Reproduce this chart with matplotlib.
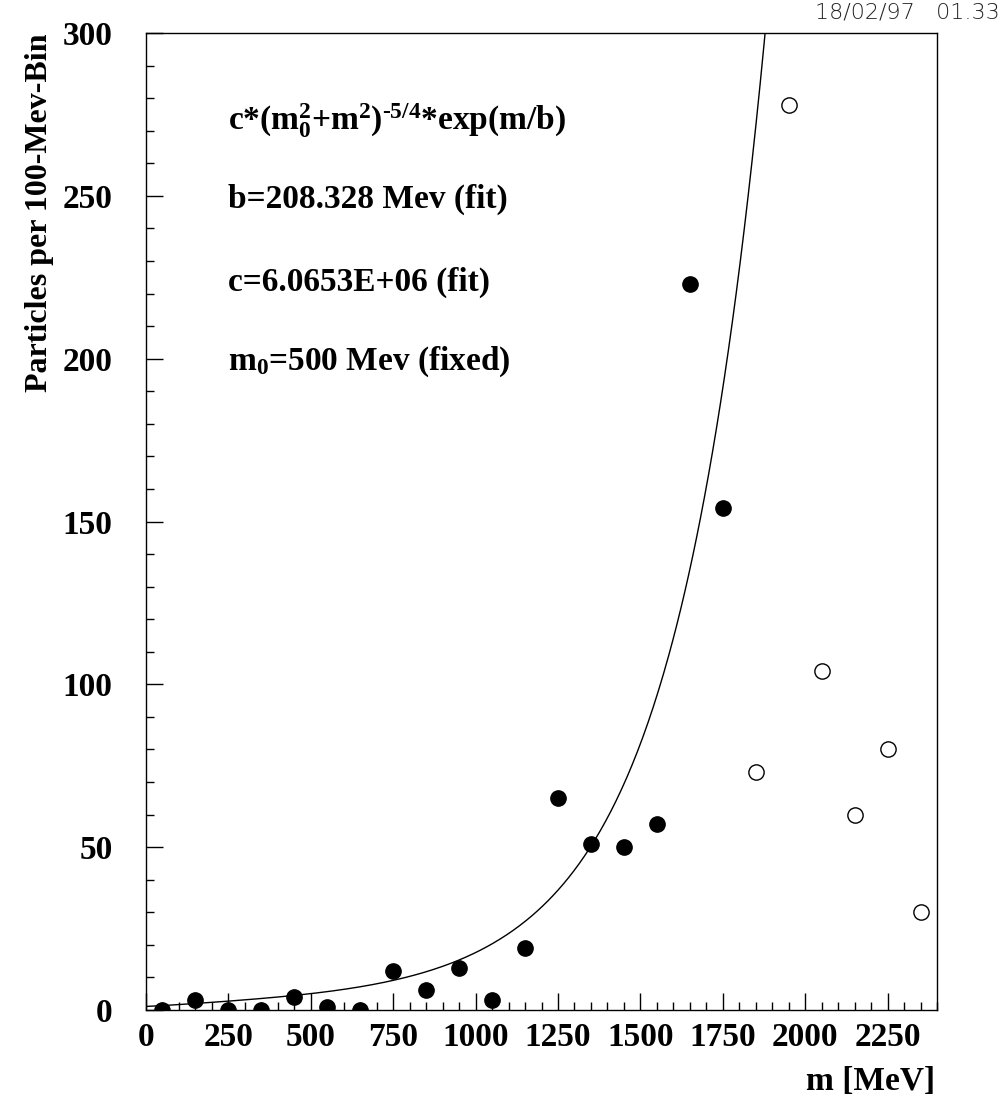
import matplotlib.pyplot as plt
import numpy as np

plt.rcParams['font.family'] = 'Liberation Serif'
plt.rcParams['font.weight'] = 'bold'
plt.rcParams['mathtext.fontset'] = 'custom'
plt.rcParams['mathtext.rm'] = 'Liberation Serif:bold'
plt.rcParams['mathtext.it'] = 'Liberation Serif:bold'
plt.rcParams['mathtext.bf'] = 'Liberation Serif:bold'

# bin centres (MeV) and counts, filled = used in fit, open = not used
m_fit = [50, 150, 250, 350, 450, 550, 650, 750, 850, 950, 1050, 1150,
         1250, 1350, 1450, 1550, 1650, 1750]
n_fit = [0, 3, 0, 0, 4, 1, 0, 12, 6, 13, 3, 19, 65, 51, 50, 57, 223, 154]
m_out = [1850, 1950, 2050, 2150, 2250, 2350]
n_out = [73, 278, 104, 60, 80, 30]

# fit parameters as printed on the chart
c = 6.0653e6
b = 208.328
m0 = 500.0

fig = plt.figure(figsize=(10.05, 11.01), dpi=100)
ax = fig.add_axes([146 / 1005, 1 - 1010 / 1101, (937 - 146) / 1005, (1010 - 33) / 1101])

m = np.linspace(0, 2400, 600)
f = c * (m0**2 + m**2) ** (-5 / 4) * np.exp(m / b)
ax.plot(m, f, color='black', lw=1)

ax.plot(m_fit, n_fit, 'o', ms=11, color='black')
ax.plot(m_out, n_out, 'o', ms=11, mfc='white', mec='black', mew=1)

ax.set_xlim(0, 2400)
ax.set_ylim(0, 300)
ax.set_xticks(np.arange(0, 2251, 250))
ax.set_xticks(np.arange(0, 2401, 50), minor=True)
ax.set_yticks(np.arange(0, 301, 50))
ax.set_yticks(np.arange(0, 301, 10), minor=True)
ax.tick_params(which='both', direction='in', top=False, right=False, labelsize=24)
ax.tick_params(which='major', length=12, width=1)
ax.tick_params(which='minor', length=6, width=1)
ax.tick_params(axis='x', pad=9)
ax.tick_params(axis='y', pad=24)
for s in ax.spines.values():
    s.set_linewidth(1)

fs = 24
ax.text(250, 273, 'c*(m$_0^2$+m$^2$)$^{\u20105/4}$*exp(m/b)', fontsize=fs, va='center')
ax.text(250, 249, 'b=208.328 Mev (fit)', fontsize=fs, va='center')
ax.text(250, 223.5, 'c=6.0653E+06 (fit)', fontsize=fs, va='center')
ax.text(250, 199, 'm$_0$=500 Mev (fixed)', fontsize=fs, va='center')

fig.text(40 / 1005, 1 - 33 / 1101, 'Particles per 100-Mev-Bin', rotation=90,
         ha='center', va='top', fontsize=23)
fig.text(935 / 1005, 1 - 1082 / 1101, 'm [MeV]', ha='right', va='center', fontsize=24)
fig.text(1000 / 1005, 1 - 12 / 1101, '18/02/97   01.33', ha='right', va='center',
         fontsize=16, family='DejaVu Sans', weight='light', color='#222222')

fig.savefig('out.png', dpi=100)
